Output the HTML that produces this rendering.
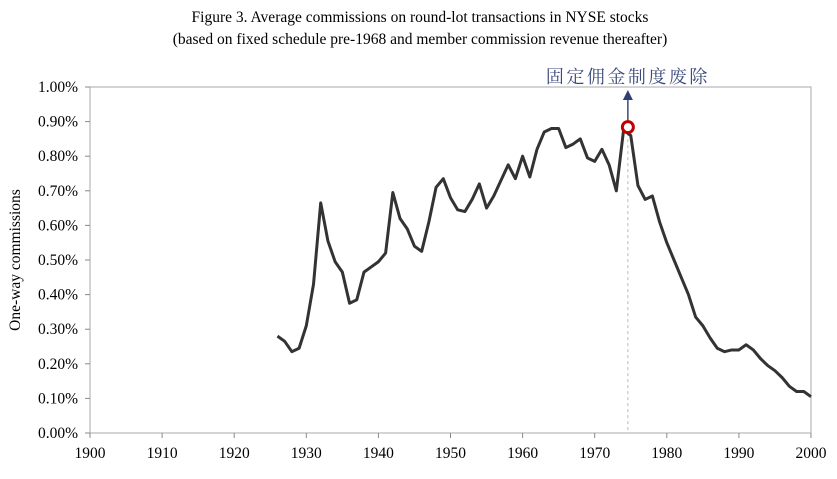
<!DOCTYPE html>
<html><head><meta charset="utf-8"><style>
body{margin:0;background:#fff;}
svg text{font-family:"Liberation Serif","Noto Serif CJK SC",serif;}
</style></head><body>
<svg width="837" height="474" id="chart">
<text x="420" y="22" text-anchor="middle" font-size="15.5">Figure 3.  Average commissions on round-lot transactions in NYSE stocks</text>
<text x="420" y="44" text-anchor="middle" font-size="15.5">(based on fixed schedule pre-1968 and member commission revenue thereafter)</text>
<rect x="90" y="87" width="721" height="346" fill="none" stroke="#aaa"/>
<text transform="translate(20,260) rotate(-90)" text-anchor="middle" font-size="15.5">One-way commissions</text>
<g id="axes"></g>
<g id="series"></g>
</svg>
<script>
const years=[];for(let y=1926;y<=2000;y++)years.push(y);
const values=[0.28,0.265,0.235,0.245,0.31,0.43,0.665,0.555,0.495,0.465,0.375,0.385,0.465,0.48,0.495,0.52,0.695,0.62,0.59,0.54,0.525,0.61,0.71,0.735,0.68,0.645,0.64,0.675,0.72,0.65,0.685,0.73,0.775,0.735,0.80,0.74,0.82,0.87,0.88,0.88,0.825,0.835,0.85,0.795,0.785,0.82,0.775,0.70,0.875,0.86,0.715,0.675,0.685,0.61,0.55,0.50,0.45,0.40,0.335,0.31,0.275,0.245,0.235,0.24,0.24,0.255,0.24,0.215,0.195,0.18,0.16,0.135,0.12,0.12,0.105];
const yTicks=[0,0.1,0.2,0.3,0.4,0.5,0.6,0.7,0.8,0.9,1.0];
const xTicks=[1900,1910,1920,1930,1940,1950,1960,1970,1980,1990,2000];
const markerYear=[1974.6];
const markerValue=[0.884];
const annotationText=["固定佣金制度废除"];
const NS="http://www.w3.org/2000/svg";
const X=y=>90+(y-1900)*7.21, Y=v=>433-v*346;
function el(t,a,p){const e=document.createElementNS(NS,t);for(const k in a)e.setAttribute(k,a[k]);p.appendChild(e);return e;}
const ax=document.getElementById('axes'),sr=document.getElementById('series');
yTicks.forEach(v=>{
 const t=el('text',{x:78,y:Y(v)+5,'text-anchor':'end','font-size':15.5},ax);t.textContent=v.toFixed(2)+'%';
 
 
 const l=el('line',{x1:85,x2:90,y1:Y(v),y2:Y(v),stroke:'#888'},ax);
 
 
});
xTicks.forEach(v=>{
 const t=el('text',{x:X(v),y:458,'text-anchor':'middle','font-size':15.5},ax);t.textContent=v;
 
 
 const l=el('line',{x1:X(v),x2:X(v),y1:433,y2:438,stroke:'#888'},ax);
 
 
});
const mx=X(markerYear[0]),my=Y(markerValue[0]);
const dl=el('line',{x1:mx,x2:mx,y1:my,y2:433,stroke:'#bbb','stroke-dasharray':'3,3'},sr);


const p=el('polyline',{points:years.map((y,i)=>X(y)+','+Y(values[i])).join(' '),fill:'none',stroke:'#333','stroke-width':3,'stroke-linejoin':'round'},sr);


const ar=el('line',{x1:mx,x2:mx,y1:my-6,y2:100,stroke:'#3b4a7a','stroke-width':1.5},sr);


const ah=el('polygon',{points:`${mx-5},100 ${mx+5},100 ${mx},90`,fill:'#2f3f75'},sr);


const c=el('circle',{cx:mx,cy:my,r:5.5,fill:'#fff',stroke:'#c00000','stroke-width':3},sr);


const at=el('text',{x:mx,y:83,'text-anchor':'middle','font-size':18,fill:'#3b4a7a','letter-spacing':'2.5'},sr);at.textContent=annotationText[0];


</script>
</body></html>
